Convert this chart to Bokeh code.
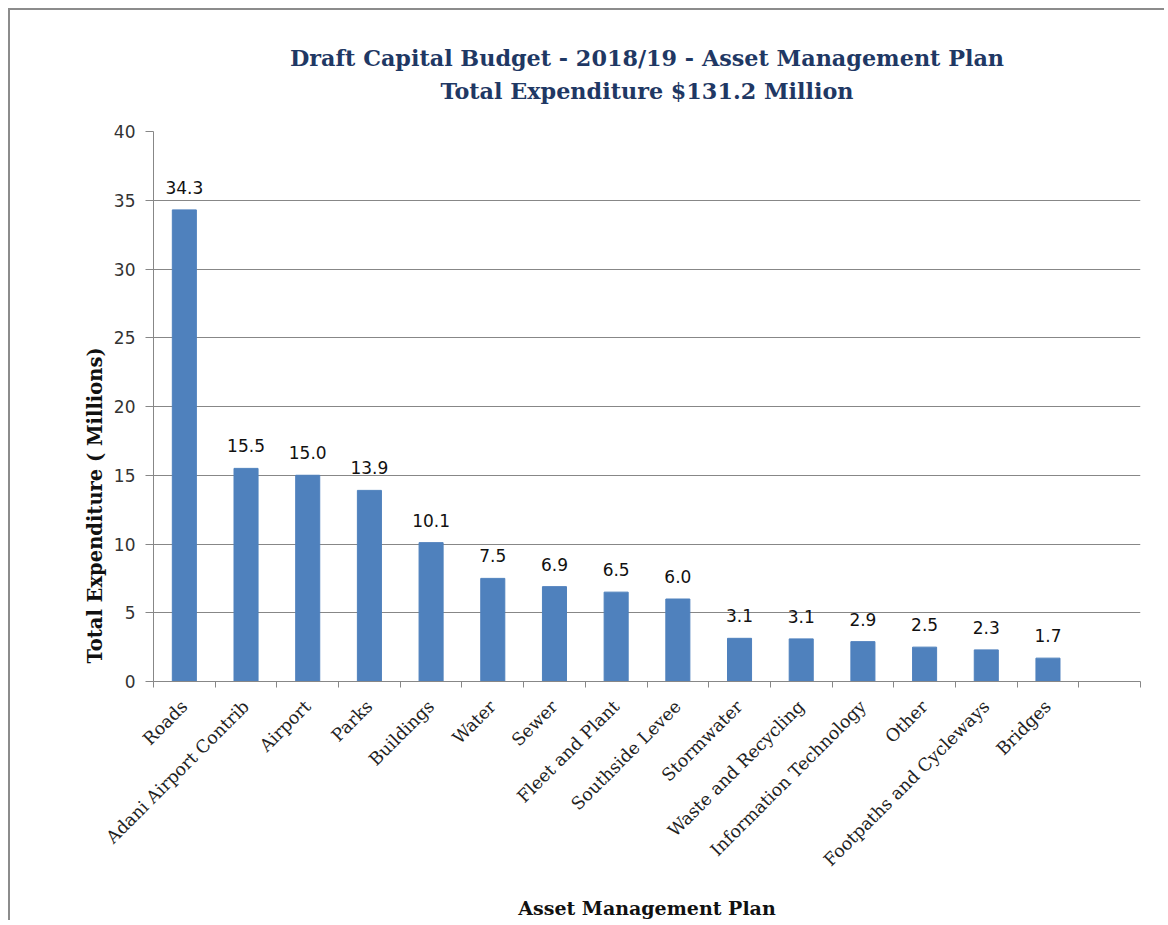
from math import pi
from bokeh.plotting import figure
from bokeh.core.properties import value
from bokeh.models import (ColumnDataSource, FactorRange, Range1d, LinearAxis,
                          CategoricalAxis, FixedTicker, LabelSet, Title)
from bokeh.embed import file_html
from bokeh.resources import INLINE

# ---- data ----
categories = ["Roads", "Adani Airport Contrib", "Airport", "Parks", "Buildings",
              "Water", "Sewer", "Fleet and Plant", "Southside Levee", "Stormwater",
              "Waste and Recycling", "Information Technology", "Other",
              "Footpaths and Cycleways", "Bridges"]
values = [34.3, 15.5, 15.0, 13.9, 10.1, 7.5, 6.9, 6.5, 6.0, 3.14, 3.1, 2.9, 2.5, 2.3, 1.7]
empty_slots = [""]
y_ticks = [0, 5, 10, 15, 20, 25, 30, 35, 40]
title_lines = ["Draft Capital Budget - 2018/19 - Asset Management Plan",
               "Total Expenditure $131.2 Million"]
x_title = "Asset Management Plan"
y_title = "Total Expenditure ( Millions)"

factors = categories + empty_slots
n_slots = len(factors)

src = ColumnDataSource(dict(cat=categories, val=values,
                            lbl=[f"{v:.1f}" for v in values]))

GRID = "#878787"
BAR = "#4F81BD"
TITLE_COL = "#1F3864"

p = figure(width=1156, height=912,
           x_range=FactorRange(factors=factors, range_padding=0, factor_padding=0),
           y_range=Range1d(y_ticks[0], y_ticks[-1]),
           x_axis_location=None, y_axis_location="left",
           output_backend="svg", toolbar_location=None,
           min_border_left=143, min_border_right=26,
           min_border_top=121, min_border_bottom=241)
p.title = None
p.styles = {"margin-left": "8px", "margin-top": "8px",
            "border-top": "2px solid #8c8c8c", "border-left": "2px solid #8c8c8c"}
p.outline_line_color = None
p.background_fill_color = "white"
p.border_fill_color = "white"
p.xgrid.visible = False

# y axis
yax = p.yaxis[0]
yax.ticker = FixedTicker(ticks=y_ticks)
yax.axis_line_color = GRID
yax.major_tick_line_color = GRID
yax.major_tick_in = 0
yax.major_tick_out = 8
yax.minor_tick_line_color = None
yax.major_label_standoff = 10
yax.major_label_text_font = "DejaVu Sans"
yax.major_label_text_font_size = "17px"
yax.major_label_text_color = "#333333"
p.ygrid.grid_line_color = GRID
p.ygrid.ticker = FixedTicker(ticks=y_ticks)

# x axis: tick marks at category boundaries (synthetic coordinates of the factor range)
tick_axis = LinearAxis(ticker=FixedTicker(ticks=[], minor_ticks=list(range(n_slots + 1))),
                       axis_line_color=GRID, major_tick_line_color=None,
                       minor_tick_line_color=GRID, minor_tick_in=0, minor_tick_out=6,
                       major_label_standoff=0)
p.add_layout(tick_axis, "below")

cat_axis = CategoricalAxis(axis_line_color=None, major_tick_line_color=None,
                           minor_tick_line_color=None,
                           major_label_orientation=pi / 4,
                           major_label_standoff=10,
                           major_label_text_font="DejaVu Serif",
                           major_label_text_font_size="17.5px",
                           major_label_text_color="#222222",
                           axis_label=x_title,
                           axis_label_standoff=17,
                           axis_label_text_font="DejaVu Serif",
                           axis_label_text_font_style="bold",
                           axis_label_text_font_size="19px",
                           axis_label_text_color="#111111")
p.add_layout(cat_axis, "below")

# bars
p.vbar(x="cat", top="val", width=0.39, source=src,
       fill_color=BAR, line_color=BAR)

p.add_layout(LabelSet(x="cat", y="val", text="lbl", source=src,
                      y_offset=16, text_align="center", text_baseline="alphabetic",
                      text_font=value("DejaVu Sans"), text_font_size="17px",
                      text_color="#111111"))

# two-line title
p.add_layout(Title(text="\n".join(title_lines), align="center", standoff=54,
                   text_align="center", text_line_height=1.3,
                   text_font="DejaVu Serif", text_font_style="bold",
                   text_font_size="22.3px", text_color=TITLE_COL), "above")

# y axis title
p.add_layout(Title(text=y_title, align="left", offset=18, standoff=8,
                   text_font="DejaVu Serif", text_font_style="bold",
                   text_font_size="19.5px", text_color="#111111"), "left")

open("out.html", "w").write(file_html(p, INLINE))
